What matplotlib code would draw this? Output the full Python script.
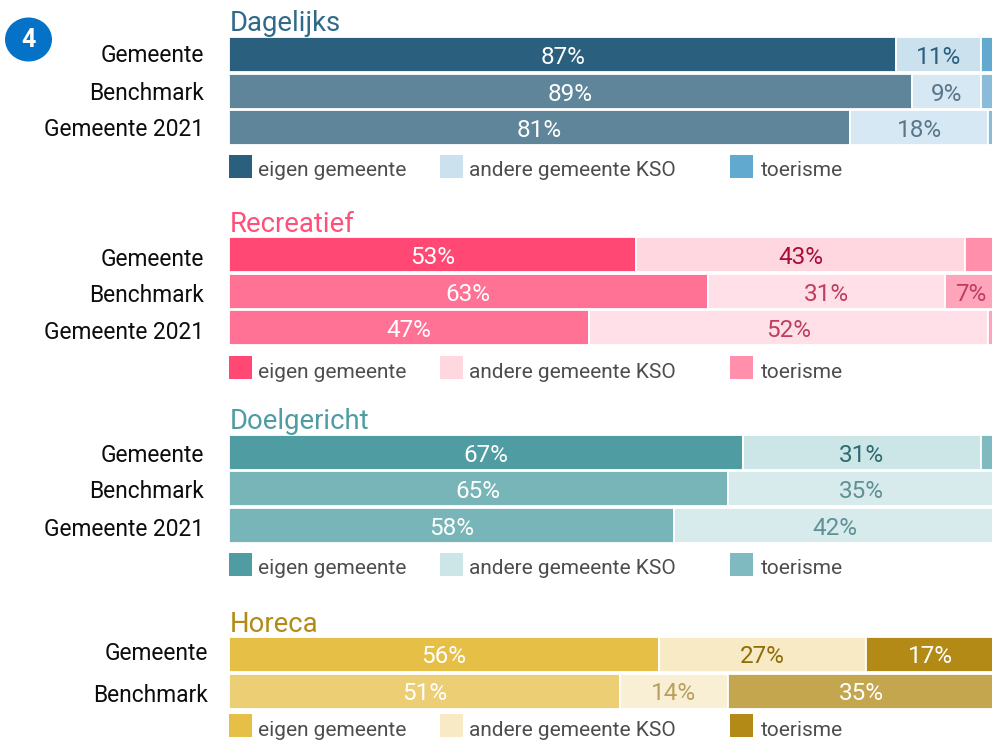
import matplotlib
matplotlib.use("Agg")
import matplotlib.pyplot as plt
from matplotlib.patches import Rectangle, Ellipse

plt.rcParams['font.family'] = ['Roboto', 'DejaVu Sans']

W, H = 992, 740
PX_PER_PCT = 7.67
X0 = 229

series_names = ["eigen gemeente", "andere gemeente KSO", "toerisme"]
rows3 = ["Gemeente", "Benchmark", "Gemeente 2021"]
rows2 = ["Gemeente", "Benchmark"]

dagelijks_eigen = [87, 89, 81]
dagelijks_andere = [11, 9, 18]
dagelijks_toerisme = [2, 2, 1]
dagelijks_labels = [["87%", "11%", ""], ["89%", "9%", ""], ["81%", "18%", ""]]

recreatief_eigen = [53, 62.4, 47]
recreatief_andere = [43, 30.9, 52]
recreatief_toerisme = [4, 6.7, 1]
recreatief_labels = [["53%", "43%", ""], ["63%", "31%", "7%"], ["47%", "52%", ""]]

doelgericht_eigen = [67, 65, 58]
doelgericht_andere = [31, 35, 42]
doelgericht_toerisme = [2, 0, 0]
doelgericht_labels = [["67%", "31%", ""], ["65%", "35%", ""], ["58%", "42%", ""]]

horeca_eigen = [56, 51]
horeca_andere = [27, 14]
horeca_toerisme = [17, 35]
horeca_labels = [["56%", "27%", "17%"], ["51%", "14%", "35%"]]

panels = [
    dict(title="Dagelijks", tcol="#2f6a8a", rows=rows3,
         vals=[dagelijks_eigen, dagelijks_andere, dagelijks_toerisme], labels=dagelijks_labels,
         top=36.5, pitch=36.5, title_y=23.5, leg_y=155, leg_txt=170, label_right=204,
         label_y=[56, 93, 129],
         strong=["#2a5f7d", "#cce1ee", "#62a9cf"], soft=["#5f859b", "#d6e8f3", "#8abcd9"],
         tstrong=["white", "#2a5f7d", "white"], tsoft=["white", "#5a7688", "white"]),
    dict(title="Recreatief", tcol="#ff4f7b", rows=rows3,
         vals=[recreatief_eigen, recreatief_andere, recreatief_toerisme], labels=recreatief_labels,
         top=236.5, pitch=36.5, title_y=224, leg_y=356, leg_txt=372, label_right=204,
         label_y=[259, 296, 332],
         strong=["#ff4874", "#ffd7e1", "#ff8fab"], soft=["#ff7296", "#ffe0e8", "#ffa5bb"],
         tstrong=["white", "#a80d35", "white"], tsoft=["white", "#bf3e5f", "#bf3e5f"]),
    dict(title="Doelgericht", tcol="#4f9ca3", rows=rows3,
         vals=[doelgericht_eigen, doelgericht_andere, doelgericht_toerisme], labels=doelgericht_labels,
         top=434, pitch=36.5, title_y=422, leg_y=553, leg_txt=568, label_right=204,
         label_y=[456, 492, 529],
         strong=["#4f9ca3", "#cce5e6", "#7fbac1"], soft=["#78b5b8", "#d7eaec", "#a5cfd3"],
         tstrong=["white", "#2f6a70", "white"], tsoft=["white", "#5f9196", "white"]),
    dict(title="Horeca", tcol="#b38a16", rows=rows2,
         vals=[horeca_eigen, horeca_andere, horeca_toerisme], labels=horeca_labels,
         top=635.5, pitch=37, title_y=624, leg_y=714, leg_txt=730, label_right=208,
         label_y=[654, 695],
         strong=["#e6bf46", "#f7eac4", "#b38a16"], soft=["#ecce75", "#f9efd4", "#c4a64f"],
         tstrong=["white", "#8f6c0a", "white"], tsoft=["white", "#b8a05c", "white"]),
]

legend_sw_x = [229, 440, 730]
legend_txt_x = [258, 469, 761]

fig = plt.figure(figsize=(W / 100, H / 100), dpi=100, facecolor="white")


def fx(x):
    return x / W


def fy(y):
    return 1 - y / H


for p in panels:
    n = len(p["rows"])
    h_px = n * p["pitch"]
    ax = fig.add_axes([fx(X0), fy(p["top"] + h_px), (W - X0) / W, h_px / H])
    ax.set_xlim(0, (W - X0) / PX_PER_PCT)
    ax.set_ylim(n - 0.5, -0.5)
    ax.axis("off")
    for r in range(n):
        left = 0
        for s in range(3):
            v = p["vals"][s][r]
            fc = (p["strong"] if r == 0 else p["soft"])[s]
            if v > 0:
                ax.barh(r, v, left=left, height=35 / p["pitch"], color=fc,
                        edgecolor="white", linewidth=1.3)
            lab = p["labels"][r][s]
            if lab:
                tc = (p["tstrong"] if r == 0 else p["tsoft"])[s]
                ax.text(left + v / 2, r + 0.08, lab, color=tc, fontsize=17.5,
                        ha="center", va="center")
            left += v
        fig.text(fx(p["label_right"]), fy(p["label_y"][r]), p["rows"][r], color="#0d0d0d",
                 fontsize=16.4, ha="right", va="center")
    fig.text(fx(230), fy(p["title_y"]), p["title"], color=p["tcol"], fontsize=19.8,
             ha="left", va="center")
    for s in range(3):
        fig.add_artist(Rectangle((fx(legend_sw_x[s]), fy(p["leg_y"] + 23)), 23 / W, 23 / H,
                                 transform=fig.transFigure, facecolor=p["strong"][s],
                                 edgecolor="none"))
        fig.text(fx(legend_txt_x[s]), fy(p["leg_txt"]), series_names[s], color="#4d4d4d",
                 fontsize=15, ha="left", va="center")

fig.add_artist(Ellipse((fx(28.5), fy(39.5)), 47 / W, 44 / H, transform=fig.transFigure,
                       facecolor="#0473c7", edgecolor="none"))
fig.text(fx(28.5), fy(40), "4", color="white", fontsize=18, fontweight="bold",
         ha="center", va="center")

fig.savefig("out.png", dpi=100, facecolor="white")
